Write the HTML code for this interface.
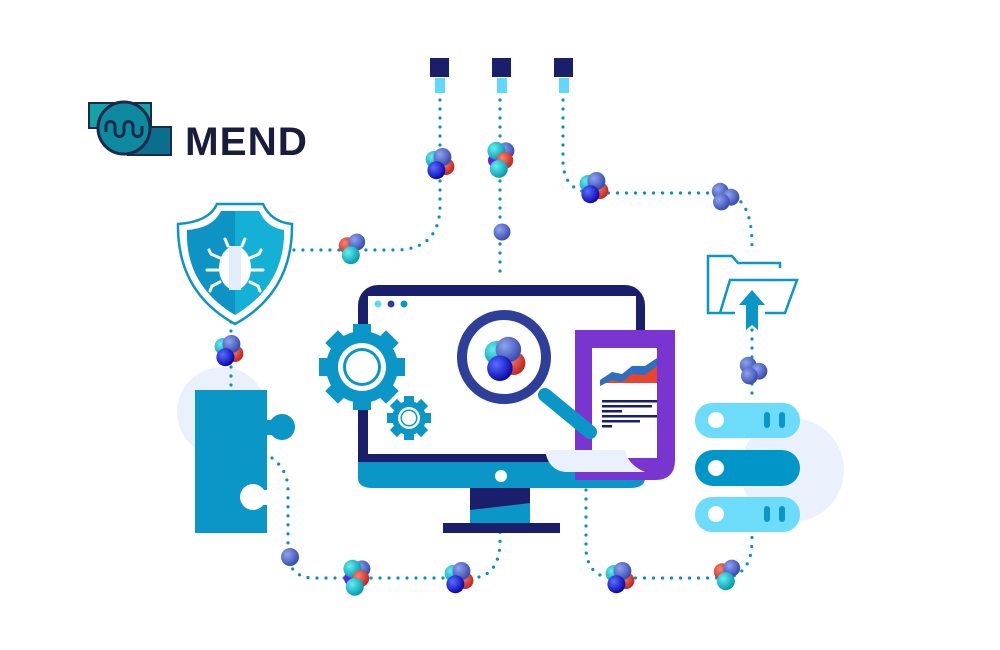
<!DOCTYPE html>
<html><head><meta charset="utf-8"><style>
html,body{margin:0;padding:0;background:#fff;width:1000px;height:650px;overflow:hidden}
</style></head><body>
<svg width="1000" height="650" viewBox="0 0 1000 650" xmlns="http://www.w3.org/2000/svg">
<defs>
<radialGradient id="gb" cx="35%" cy="35%" r="65%"><stop offset="0" stop-color="#5a6cff"/><stop offset="1" stop-color="#0a0ab0"/></radialGradient>
<radialGradient id="gs" cx="35%" cy="35%" r="65%"><stop offset="0" stop-color="#8fa2f0"/><stop offset="1" stop-color="#3a4fb0"/></radialGradient>
<radialGradient id="gr" cx="35%" cy="35%" r="65%"><stop offset="0" stop-color="#ff8070"/><stop offset="1" stop-color="#c02a20"/></radialGradient>
<radialGradient id="gc" cx="35%" cy="35%" r="65%"><stop offset="0" stop-color="#60f0f0"/><stop offset="1" stop-color="#0a9ab0"/></radialGradient>
<g id="cA0"><circle cx="-5" cy="-3" r="7" fill="url(#gc)"/><circle cx="5" cy="3" r="7" fill="url(#gr)"/><circle cx="2" cy="-5" r="7.5" fill="url(#gs)"/><circle cx="-3" cy="6" r="7.5" fill="url(#gb)"/></g>
<g id="cA" transform="scale(1.2)"><use href="#cA0"/></g>
<g id="cB" transform="scale(1.2)"><circle cx="-4" cy="-2" r="7" fill="url(#gr)"/><circle cx="4" cy="-5" r="7" fill="url(#gs)"/><circle cx="-1" cy="6" r="7.5" fill="url(#gc)"/></g>
<g id="cC" transform="scale(1.2)"><circle cx="-4" cy="-4" r="7" fill="url(#gs)"/><circle cx="5" cy="1" r="7" fill="url(#gs)"/><circle cx="-3" cy="5" r="7" fill="url(#gs)"/></g>
<g id="cD" transform="scale(1.2)"><circle cx="-4" cy="2" r="6" fill="#6a1ee0"/><circle cx="5" cy="-6" r="7" fill="url(#gs)"/><circle cx="-3" cy="-6" r="7.5" fill="url(#gc)"/><circle cx="4" cy="2" r="7" fill="url(#gr)"/><circle cx="-1" cy="9" r="7.5" fill="url(#gc)"/></g>
</defs>

<circle cx="222" cy="412" r="45" fill="#eaf1fd"/>
<circle cx="792" cy="470" r="52" fill="#eaf1fd"/>

<g fill="none" stroke="#0a8fc4" stroke-width="3.2" stroke-linecap="round" stroke-dasharray="0 9">
<path d="M440 100 V205 Q440 250 395 250 H290"/>
<path d="M500 100 V272"/>
<path d="M563 100 V160 Q563 193 596 193 H720 Q752 193 752 245"/>
<path d="M752 330 V400"/>
<path d="M231 322 V392"/>
<path d="M272 458 Q288 470 288 490 V555 Q290 578 315 578 H470 Q500 578 500 540 V520"/>
<path d="M586 490 V550 Q588 578 615 578 H725 Q752 575 752 540 V495"/>
</g>

<g fill="#1a1f6b"><rect x="430" y="58" width="19" height="19"/><rect x="492" y="58" width="19" height="19"/><rect x="554" y="58" width="19" height="19"/></g>
<g fill="#5fd8fb"><rect x="435" y="78" width="10" height="15"/><rect x="497" y="78" width="10" height="15"/><rect x="559" y="78" width="10" height="15"/></g>

<!-- logo -->
<rect x="89" y="103" width="62" height="25" fill="#14a3a8" stroke="#1a2a4a" stroke-width="2"/>
<rect x="128" y="127" width="43" height="28" fill="#0a6f8e" stroke="#1a2a4a" stroke-width="2"/>
<circle cx="124" cy="128" r="26" fill="#0d8aa0" stroke="#1a2a4a" stroke-width="3"/>
<path d="M106 132 V126 a4.5 4.5 0 0 1 9 0 V132 a4.5 4.5 0 0 0 9 0 V126 a4.5 4.5 0 0 1 9 0 V132 a4.5 4.5 0 0 0 9 0 V126" fill="none" stroke="#1a2a4a" stroke-width="3"/>
<text x="185" y="155" font-family="Liberation Sans, sans-serif" font-weight="bold" font-size="40" fill="#1b1c3c" letter-spacing="1" textLength="123" lengthAdjust="spacingAndGlyphs">MEND</text>

<!-- shield -->
<path d="M178 224 Q209 222 217 204 H263 Q271 222 292 224 Q293 292 235 324 Q177 292 178 224 Z" fill="#fff" stroke="#0e94c4" stroke-width="2.5"/>
<path d="M187 230 Q213 228 221 211 H259 Q267 228 284 230 Q285 285 235 315 Q185 285 187 230 Z" fill="#0e94c4"/>
<path d="M235 211 H259 Q267 228 284 230 Q285 285 235 315 Z" fill="#15b0d6"/>
<ellipse cx="235" cy="268" rx="16" ry="22" fill="#fff"/>
<path d="M235 246 V290" stroke="#e3ecfb" stroke-width="12"/>
<g stroke="#fff" stroke-width="3" fill="none" stroke-linecap="round"><path d="M228 246 l-3 -7 M242 246 l3 -7 M220 258 l-9 -4 l-2 -4 M250 258 l9 -4 l2 -4 M219 270 h-12 M251 270 h12 M220 282 l-8 4 l-2 5 M250 282 l8 4 l2 5"/></g>

<!-- puzzle -->
<rect x="195" y="390" width="72" height="143" fill="#0a96c6"/>
<circle cx="282" cy="427" r="13" fill="#0a96c6"/>
<rect x="265" y="420" width="8" height="15" fill="#0a96c6"/>
<circle cx="253" cy="497" r="13" fill="#fff"/>
<rect x="255" y="490" width="14" height="15" fill="#fff"/>

<!-- monitor -->
<rect x="358" y="285" width="287" height="203" rx="20" fill="#1a1f6b"/>
<path d="M358 466 H645 V478 Q645 488 630 488 H373 Q358 488 358 478 Z" fill="#0a96c6"/>
<rect x="358" y="462" width="287" height="14" fill="#0a96c6"/>
<rect x="368" y="296" width="268" height="158" fill="#fff"/>
<circle cx="501" cy="476" r="6" fill="#fff"/>
<rect x="470" y="488" width="60" height="36" fill="#1a1f6b"/>
<path d="M470 510 L530 503 V524 H470 Z" fill="#0a96c6"/>
<rect x="443" y="523" width="117" height="10" fill="#1a1f6b"/>
<circle cx="378" cy="304" r="3.5" fill="#5fd8fb"/><circle cx="391" cy="304" r="3.5" fill="#2e3f9a"/><circle cx="404" cy="304" r="3.5" fill="#0a96c6"/>

<!-- gears -->
<g fill="#0a96c6">
<circle cx="362" cy="367" r="36"/>
<g><rect x="353" y="324" width="18" height="86"/><rect x="319" y="358" width="86" height="18"/><rect x="353" y="324" width="18" height="86" transform="rotate(45 362 367)"/><rect x="353" y="324" width="18" height="86" transform="rotate(-45 362 367)"/></g>
<circle cx="409" cy="418" r="17"/>
<g><rect x="404" y="396" width="10" height="44"/><rect x="387" y="413" width="44" height="10"/><rect x="404" y="396" width="10" height="44" transform="rotate(45 409 418)"/><rect x="404" y="396" width="10" height="44" transform="rotate(-45 409 418)"/></g>
</g>
<circle cx="362" cy="367" r="24" fill="#fff"/><circle cx="362" cy="367" r="19" fill="#0a96c6"/><circle cx="362" cy="367" r="16" fill="#fff"/>
<circle cx="409" cy="418" r="11" fill="#fff"/><circle cx="409" cy="418" r="8.5" fill="#0a96c6"/><circle cx="409" cy="418" r="7" fill="#fff"/>

<!-- document -->
<path d="M575 330 H675 V460 Q675 480 655 480 H575 Z" fill="#7a35d0"/>
<rect x="592" y="348" width="65" height="110" fill="#fff"/>
<path d="M600 385 L612 377 L622 379 L632 372 L645 370 L657 365 V383 H600 Z" fill="#e8452c"/>
<path d="M600 380 L612 372 L622 374 L632 366 L645 366 L657 358 V366 L645 375 L632 374 L622 382 L612 380 L600 386 Z" fill="#2e6fbf"/>
<g fill="#1a1f6b"><rect x="602" y="400" width="55" height="2.5"/><rect x="602" y="405" width="50" height="2.5"/><rect x="602" y="410" width="20" height="2.5"/><rect x="602" y="415" width="55" height="2.5"/><rect x="602" y="420" width="38" height="2.5"/><rect x="602" y="425" width="10" height="2.5"/></g>
<path d="M545 450 H625 Q628 465 645 472 H565 Q548 470 545 450 Z" fill="#eaf1fd"/>

<!-- magnifier -->
<line x1="545" y1="395" x2="590" y2="432" stroke="#0a96c6" stroke-width="14" stroke-linecap="round"/>
<circle cx="504" cy="357" r="42" fill="#fff" stroke="#2e3f9a" stroke-width="10"/>
<g transform="translate(505 358) scale(1.7)"><use href="#cA0"/></g>

<!-- folder -->
<g fill="none" stroke="#0a96c6" stroke-width="2.5">
<path d="M735 313 H708 V256 H732 L738 263 H780 V268"/>
<path d="M720 313 L730 280 H797 L785 313 H765"/>
</g>
<path d="M752 290 L765 305 H758 V330 L752 325 L746 330 V305 H739 Z" fill="#0a96c6"/>

<!-- servers -->
<rect x="695" y="403" width="105" height="35" rx="17" fill="#6ddcfb"/>
<rect x="695" y="450" width="105" height="36" rx="18" fill="#0096c7"/>
<rect x="695" y="497" width="105" height="35" rx="17" fill="#6ddcfb"/>
<g fill="#fff"><circle cx="716" cy="420" r="8"/><circle cx="716" cy="468" r="8"/><circle cx="716" cy="514" r="8"/></g>
<g fill="#0a96c6"><rect x="764" y="412" width="6" height="16" rx="3"/><rect x="779" y="412" width="6" height="16" rx="3"/><rect x="764" y="506" width="6" height="16" rx="3"/><rect x="779" y="506" width="6" height="16" rx="3"/></g>

<!-- clusters -->
<use href="#cA" x="440" y="163"/>
<use href="#cD" x="500" y="158"/>
<circle cx="502" cy="232" r="8.5" fill="url(#gs)"/>
<use href="#cA" x="594" y="187"/>
<use href="#cC" x="725" y="196"/>
<use href="#cB" x="352" y="248"/>
<use href="#cA" x="229" y="350"/>
<use href="#cC" x="753" y="370"/>
<circle cx="290" cy="557" r="9" fill="url(#gs)"/>
<use href="#cD" x="356" y="576"/>
<use href="#cA" x="459" y="577"/>
<use href="#cA" x="620" y="577"/>
<use href="#cB" x="727" y="574"/>
</svg>
</body></html>
